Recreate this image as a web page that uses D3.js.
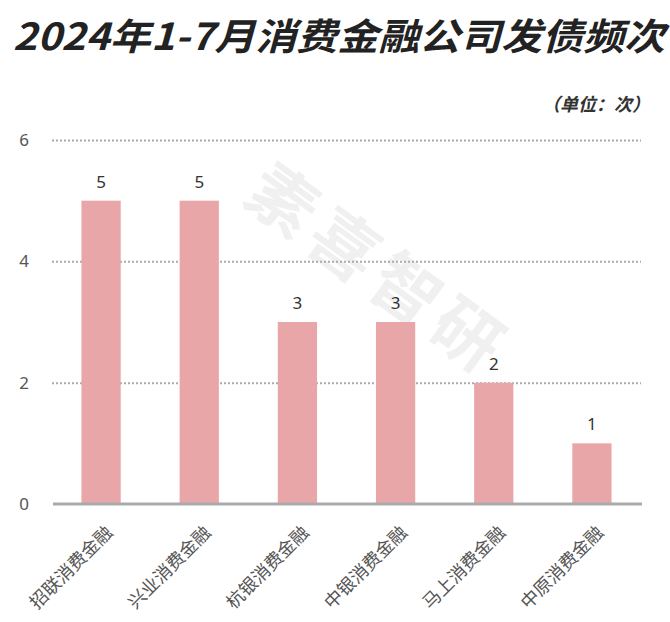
<!DOCTYPE html>
<html>
<head>
<meta charset="utf-8">
<script src="https://cdn.jsdelivr.net/npm/d3@7/dist/d3.min.js"></script>
<style>
  html, body { margin: 0; padding: 0; background: #fff; }
  svg { display: block; font-family: "Noto Sans CJK SC", "Noto Sans", sans-serif; }
</style>
</head>
<body>
<svg id="chart" width="670" height="622"></svg>
<script>
const categories = ["招联消费金融", "兴业消费金融", "杭银消费金融", "中银消费金融", "马上消费金融", "中原消费金融"];
const values = [5, 5, 3, 3, 2, 1];
const yTicks = [0, 2, 4, 6];
const titleText = "2024年1-7月消费金融公司发债频次";
const unitText = "（单位：次）";
const watermarkText = "素喜智研";

const svg = d3.select("#chart");
const W = 670, H = 622;
const margin = { left: 52, right: 29, top: 140, bottom: 118 };

const x = d3.scaleBand()
  .domain(categories)
  .range([margin.left, W - margin.right])
  .paddingInner(0.6)
  .paddingOuter(0.3);

const y = d3.scaleLinear()
  .domain([0, 6])
  .range([H - margin.bottom, margin.top]);

// Title
svg.append("text")
  .attr("x", 13)
  .attr("y", 50)
  .attr("font-size", 37)
  .attr("font-weight", 700)
  .attr("font-style", "italic")
  .attr("fill", "#222")
  .attr("textLength", 652)
  .attr("lengthAdjust", "spacingAndGlyphs")
  .text(titleText);

// Unit label
svg.append("text")
  .attr("x", 650)
  .attr("y", 111)
  .attr("text-anchor", "end")
  .attr("font-size", 18)
  .attr("font-weight", 700)
  .attr("font-style", "italic")
  .attr("fill", "#333")
  .text(unitText);

// Watermark
svg.append("text")
  .attr("transform", "translate(381,266) rotate(36)")
  .attr("text-anchor", "middle")
  .attr("dominant-baseline", "central")
  .attr("font-size", 68)
  .attr("font-weight", 700)
  .attr("letter-spacing", 8)
  .attr("fill", "#f0f0f0")
  .text(watermarkText);

// Y axis with dotted gridlines
const yAxis = d3.axisLeft(y).tickValues(yTicks).tickSize(0).tickPadding(23).tickFormat(d3.format("d"));
const gy = svg.append("g")
  .attr("transform", `translate(${margin.left},0)`)
  .call(yAxis);
gy.select(".domain").remove();
gy.selectAll(".tick text")
  .attr("font-size", 17)
  .attr("fill", "#555")
  .attr("font-family", "\"Noto Sans\", \"DejaVu Sans\", sans-serif");
gy.selectAll(".tick")
  .filter(d => d !== 0)
  .append("line")
  .attr("x1", 0)
  .attr("x2", W - margin.right - margin.left)
  .attr("stroke", "#aaa")
  .attr("stroke-width", 2)
  .attr("stroke-dasharray", "2,2");

// Bars
svg.append("g")
  .selectAll("rect")
  .data(values)
  .join("rect")
  .attr("x", (d, i) => x(categories[i]))
  .attr("y", d => y(d))
  .attr("width", x.bandwidth())
  .attr("height", d => y(0) - y(d))
  .attr("fill", "#e9a6a9");

// Value labels
svg.append("g")
  .selectAll("text")
  .data(values)
  .join("text")
  .attr("x", (d, i) => x(categories[i]) + x.bandwidth() / 2)
  .attr("y", d => y(d) - 13)
  .attr("text-anchor", "middle")
  .attr("font-size", 17)
  .attr("fill", "#333")
  .attr("font-family", "\"Noto Sans\", \"DejaVu Sans\", sans-serif")
  .text(d => d);

// X axis baseline
const xAxis = d3.axisBottom(x).tickSize(0).tickFormat("");
const gx = svg.append("g")
  .attr("transform", `translate(0,${y(0)})`)
  .call(xAxis);
gx.select(".domain")
  .attr("stroke", "#aaa")
  .attr("stroke-width", 3)
  .attr("d", `M${margin.left + 1},0H${W - margin.right + 1}`);

// Category labels, rotated
svg.append("g")
  .selectAll("text")
  .data(categories)
  .join("text")
  .attr("transform", d => `translate(${x(d) + x.bandwidth() / 2 + 7},${y(0) + 24}) rotate(-45)`)
  .attr("text-anchor", "end")
  .attr("dominant-baseline", "central")
  .attr("font-size", 18)
  .attr("fill", "#555")
  .text(d => d);
</script>
</body>
</html>
